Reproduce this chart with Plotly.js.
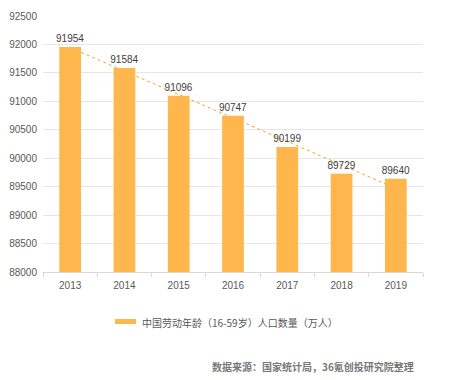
<!DOCTYPE html>
<html>
<head>
<meta charset="utf-8">
<script src="https://cdn.plot.ly/plotly-3.0.1.min.js"></script>
<style>html,body{margin:0;padding:0;background:#fff;}#chart{width:450px;height:380px;}</style>
</head>
<body>
<div id="chart"></div>
<script>
const years = ['2013','2014','2015','2016','2017','2018','2019'];
const population = [91954, 91584, 91096, 90747, 90199, 89729, 89640];
const seriesName = '中国劳动年龄（16-59岁）人口数量（万人）';
const sourceText = '数据来源：国家统计局，36氪创投研究院整理';
const yTicks = [88000, 88500, 89000, 89500, 90000, 90500, 91000, 91500, 92000, 92500];

// linear trendline (least squares) over category index
const n = population.length;
const idx = population.map((_, i) => i);
const mx = idx.reduce((a, b) => a + b, 0) / n;
const my = population.reduce((a, b) => a + b, 0) / n;
let sxy = 0, sxx = 0;
idx.forEach(i => { sxy += (i - mx) * (population[i] - my); sxx += (i - mx) * (i - mx); });
const slope = sxy / sxx;
const intercept = my - slope * mx;
const trendY = idx.map(i => intercept + slope * i);

const font = '"Liberation Sans", Arial, "Noto Sans CJK SC", sans-serif';
const cjk = '"Noto Sans CJK SC", "Liberation Sans", sans-serif';
const barColor = '#FFB74D';

const trend = {
  type: 'scatter', mode: 'lines', x: years, y: trendY,
  xaxis: 'x', yaxis: 'y',
  line: { color: '#F5A623', width: 1, dash: 'dot' },
  showlegend: false, hoverinfo: 'skip'
};
const bars = {
  type: 'bar', x: years, y: population, name: seriesName,
  xaxis: 'x2', yaxis: 'y2',
  marker: { color: barColor },
  width: 0.4,
  text: population.map(String), textposition: 'outside', cliponaxis: false,
  constraintext: 'none',
  textfont: { family: font, size: 10, color: '#404040' },
  showlegend: false
};

const yRange = [88000, 92500];
const layout = {
  width: 450, height: 380,
  margin: { l: 43, r: 27, t: 16, b: 108 },
  paper_bgcolor: '#fff', plot_bgcolor: '#fff',
  font: { family: font, size: 10, color: '#595959' },
  showlegend: false,
  xaxis: {
    type: 'category', showgrid: false, zeroline: false,
    showline: true, linecolor: '#d9d9d9', linewidth: 1,
    ticks: 'outside', tickson: 'boundaries', ticklen: 4, tickcolor: '#d9d9d9',
    ticklabelstandoff: 4,
    tickfont: { family: font, size: 10, color: '#595959' }
  },
  yaxis: {
    range: yRange, tickvals: yTicks, ticktext: yTicks.map(String),
    showgrid: true, gridcolor: '#e6e6e6', gridwidth: 1, zeroline: false,
    showline: false, ticks: '', ticklabelstandoff: 5,
    tickfont: { family: font, size: 10, color: '#595959' }
  },
  xaxis2: { type: 'category', overlaying: 'x', matches: 'x', visible: false },
  yaxis2: { overlaying: 'y', range: yRange, visible: false },
  bargap: 0.6,
  shapes: [{
    type: 'rect', xref: 'paper', yref: 'paper',
    x0: (115 - 43) / 380, x1: (136 - 43) / 380,
    y0: (272 - 324) / 256, y1: (272 - 319) / 256,
    fillcolor: barColor, line: { width: 0 }
  }],
  annotations: [
    {
      xref: 'paper', yref: 'paper', x: (140 - 43) / 380, y: (272 - 322) / 256,
      xanchor: 'left', yanchor: 'middle', showarrow: false,
      text: seriesName, font: { family: cjk, size: 10, color: '#595959' }
    },
    {
      xref: 'paper', yref: 'paper', x: (416 - 43) / 380, y: (272 - 366) / 256,
      xanchor: 'right', yanchor: 'middle', showarrow: false,
      text: '<b>' + sourceText + '</b>', font: { family: cjk, size: 10, color: '#777' }
    }
  ]
};

Plotly.newPlot('chart', [trend, bars], layout, { staticPlot: true, displayModeBar: false });
</script>
</body>
</html>
